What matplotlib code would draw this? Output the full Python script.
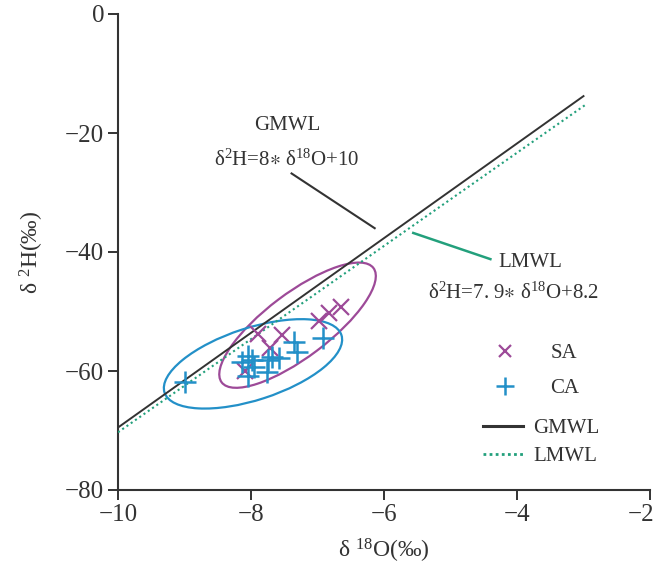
import matplotlib
matplotlib.use("Agg")
import matplotlib.pyplot as plt
from matplotlib.patches import Ellipse
from matplotlib.transforms import ScaledTranslation

# samples
sa_x = [-8.09, -7.89, -7.71, -7.53, -6.97, -6.82, -6.65]
sa_y = [-60.0, -53.8, -56.2, -54.0, -51.6, -50.3, -49.2]

ca_x = [-8.99, -8.13, -8.05, -7.99, -8.04, -7.96, -7.76, -7.74, -7.69, -7.58, -7.36, -7.31, -6.91]
ca_y = [-61.8, -58.5, -57.4, -58.2, -60.8, -59.4, -60.1, -58.2, -57.6, -57.8, -55.1, -56.8, -54.5]

# meteoric water lines (end points)
gmwl_x = [-10, -3.0]
gmwl_y = [-69.5, -13.8]
lmwl_x = [-10, -2.95]
lmwl_y = [-70.3, -15.1]

# group ellipses: centre in data units
sa_centre = (-7.30, -52.3)
ca_centre = (-7.97, -58.8)

x_ticks = [-10, -8, -6, -4, -2]
y_ticks = [0, -20, -40, -60, -80]

purple = "#9d4a98"
blue = "#2390c8"
green = "#23a07c"
dark = "#333333"

plt.rcParams['font.family'] = ['Liberation Serif', 'DejaVu Serif']
plt.rcParams['mathtext.fontset'] = 'custom'
plt.rcParams['mathtext.rm'] = 'Liberation Serif'
plt.rcParams['mathtext.it'] = 'Liberation Serif:italic'
plt.rcParams['mathtext.fallback'] = 'stix'

fig = plt.figure(figsize=(6.56, 5.73), dpi=100)
ax = fig.add_axes([118 / 656, 83 / 573, 532 / 656, 476 / 573])
ax.set_xlim(-10, -2)
ax.set_ylim(-80, 0)

for s in ['top', 'right']:
    ax.spines[s].set_visible(False)
for s in ['left', 'bottom']:
    ax.spines[s].set_color(dark)
    ax.spines[s].set_linewidth(1.5)

ax.set_xticks(x_ticks)
ax.set_yticks(y_ticks)
ax.tick_params(direction='out', length=7, width=1.4, color=dark,
               labelsize=18, labelcolor=dark, pad=3)

# keep the last x label inside the page
last = ax.get_xticklabels()[-1]
last.set_transform(last.get_transform() + ScaledTranslation(-0.09, 0, fig.dpi_scale_trans))

ax.set_xlabel('δ $^{18}$O(‰)', fontsize=17, color=dark, labelpad=8)
ax.set_ylabel('δ $^{2}$H(‰)', fontsize=17, color=dark, labelpad=14)

# ellipses, sized in pixels on the page
dpi = fig.dpi
for (cx, cy), a, b, ang, col in [(sa_centre, 95, 32, 37, purple),
                                  (ca_centre, 93, 36, 18, blue)]:
    tr = fig.dpi_scale_trans + ScaledTranslation(cx, cy, ax.transData)
    e = Ellipse((0, 0), 2 * a / dpi, 2 * b / dpi, angle=ang,
                transform=tr, fill=False, edgecolor=col, lw=1.6, zorder=2)
    ax.add_patch(e)

g_line, = ax.plot(gmwl_x, gmwl_y, color=dark, lw=1.4, zorder=3)
l_line, = ax.plot(lmwl_x, lmwl_y, color=green, lw=1.5, ls=(0, (1, 1.5)), zorder=3)

h_sa, = ax.plot(sa_x, sa_y, 'x', ms=11, mew=1.6, color=purple, zorder=4)
h_ca, = ax.plot(ca_x, ca_y, '+', ms=16, mew=1.8, color=blue, zorder=5)

# annotations
ax.text(-7.46, -18.7, 'GMWL', ha='center', va='center', fontsize=15, color=dark)
ax.text(-7.46, -24.5, r'δ$^{2}$H=8$\ast$ δ$^{18}$O+10', ha='center', va='center',
        fontsize=15, color=dark)
ax.plot([-7.39, -6.14], [-26.8, -36.0], color=dark, lw=1.5)

ax.text(-3.80, -41.7, 'LMWL', ha='center', va='center', fontsize=15, color=dark)
ax.text(-4.06, -46.9, r'δ$^{2}$H=7. 9$\ast$ δ$^{18}$O+8.2', ha='center', va='center',
        fontsize=15, color=dark)
ax.plot([-5.56, -4.40], [-36.8, -41.2], color=green, lw=1.8)

leg1 = ax.legend([h_sa, h_ca], ['SA', 'CA'], loc='center left',
                 bbox_to_anchor=(0.695, 0.25), frameon=False, fontsize=15,
                 handlelength=1.7, handletextpad=1.3, labelspacing=0.75,
                 borderpad=0, borderaxespad=0, markerscale=0.8,
                 labelcolor=dark)
ax.add_artist(leg1)

g_h, = ax.plot([], [], color=dark, lw=2.2)
l_h, = ax.plot([], [], color=green, lw=2.0, ls=(0, (1, 1.2)))
ax.legend([g_h, l_h], ['GMWL', 'LMWL'], loc='center left',
          bbox_to_anchor=(0.686, 0.1), frameon=False, fontsize=15,
          handlelength=1.9, handletextpad=0.5, labelspacing=0.42,
          borderpad=0, borderaxespad=0, labelcolor=dark)

fig.savefig('out.png', dpi=100)
